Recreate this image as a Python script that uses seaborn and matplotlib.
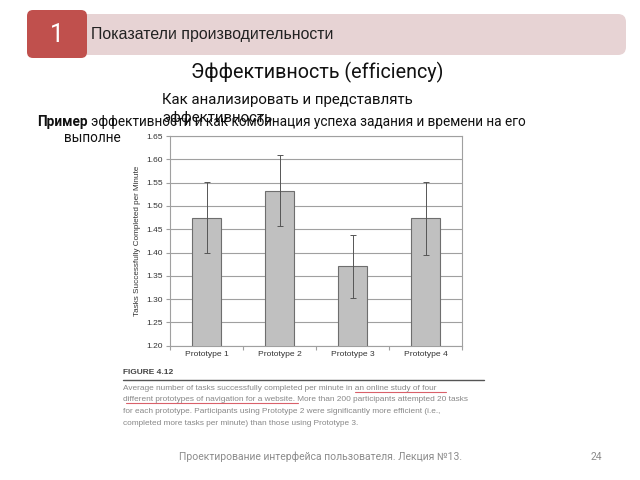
import matplotlib
matplotlib.use("Agg")
import matplotlib.pyplot as plt
from matplotlib.patches import FancyBboxPatch
from matplotlib.ticker import FixedLocator
import numpy as np
import seaborn as sns

# Chart data
prototypes = ["Prototype 1", "Prototype 2", "Prototype 3", "Prototype 4"]
efficiency = [1.475, 1.533, 1.370, 1.473]
ci_half = [0.077, 0.076, 0.067, 0.079]
y_ticks = [1.20, 1.25, 1.30, 1.35, 1.40, 1.45, 1.50, 1.55, 1.60, 1.65]

# Slide texts
section_num = "1"
section_title = "Показатели производительности"
slide_title = "Эффективность (efficiency)"
subtitle_lines = ["Как анализировать и представлять", "эффективность"]
body_bold = "Пример"
body_rest = "эффективности и как комбинация успеха задания и времени на его"
body_line2 = "выполне"
fig_label = "FIGURE 4.12"
caption_lines = [
    "Average number of tasks successfully completed per minute in an online study of four",
    "different prototypes of navigation for a website. More than 200 participants attempted 20 tasks",
    "for each prototype. Participants using Prototype 2 were significantly more efficient (i.e.,",
    "completed more tasks per minute) than those using Prototype 3.",
]
footer = "Проектирование интерфейса пользователя. Лекция №13."
page_num = "24"

sns.set_theme(style="white")
slide_font = ["Roboto", "DejaVu Sans"]
chart_font = ["Liberation Sans", "DejaVu Sans"]
plt.rcParams["font.family"] = chart_font

fig = plt.figure(figsize=(6.4, 4.8), dpi=100)
fig.patch.set_facecolor("white")

# Background layer in pixel coordinates for the slide decorations
bg = fig.add_axes([0, 0, 1, 1])
bg.set_xlim(0, 640)
bg.set_ylim(480, 0)
bg.axis("off")
bg.set_zorder(0)

bg.add_patch(FancyBboxPatch((80, 14), 546, 41, boxstyle="round,pad=0,rounding_size=8",
                            facecolor="#e7d3d4", edgecolor="none"))
bg.add_patch(FancyBboxPatch((27, 10), 60, 48, boxstyle="round,pad=0,rounding_size=6",
                            facecolor="#c0504d", edgecolor="none"))
bg.text(57, 35, section_num, color="white", fontsize=18, ha="center", va="center",
        family=slide_font)
bg.text(91, 35, section_title, color="#222222", fontsize=11.4, ha="left", va="center",
        family=chart_font)
bg.text(317, 72, slide_title, color="#111111", fontsize=14.2, ha="center", va="center",
        family=slide_font)
for i, line in enumerate(subtitle_lines):
    bg.text(162, 100 + i * 18, line, color="#111111", fontsize=10.8, ha="left",
            va="center", family=slide_font)

# Bold lead word followed by the rest of the line
lead = bg.text(37, 122, body_bold, color="#111111", fontsize=9.8, fontweight="bold",
               ha="left", va="center", family=slide_font)
fig.canvas.draw()
lead_right = bg.transData.inverted().transform(
    lead.get_window_extent(fig.canvas.get_renderer()))[1, 0]
bg.text(lead_right + 3, 122, body_rest, color="#111111", fontsize=9.8, ha="left",
        va="center", family=slide_font)
bg.text(64, 138, body_line2, color="#111111", fontsize=9.8, ha="left", va="center",
        family=slide_font)

# Figure caption under the chart
bg.text(123, 373, fig_label, color="#444444", fontsize=6, fontweight="bold",
        ha="left", va="center", family=chart_font)
bg.plot([123, 484], [380, 380], color="#555555", lw=1)
for i, line in enumerate(caption_lines):
    bg.text(123, 388 + i * 11.7, line, color="#888888", fontsize=5.95, ha="left",
            va="center", family=chart_font)
bg.plot([355, 446], [392, 392], color="#d9606a", lw=0.8)
bg.plot([126, 298], [403, 403], color="#d9606a", lw=0.8)

# Footer
bg.text(321, 457, footer, color="#8c8c8c", fontsize=7.5, ha="center", va="center",
        family=slide_font)
bg.text(596, 457, page_num, color="#8c8c8c", fontsize=7.5, ha="center", va="center",
        family=slide_font)

# Bar chart
ax = fig.add_axes([170 / 640, 1 - 345.7 / 480, 292 / 640, 209.7 / 480])
ax.set_zorder(1)
ax.set_facecolor("white")
sns.barplot(x=prototypes, y=efficiency, color="#c0c0c0", edgecolor="#6e6e6e",
            linewidth=0.8, width=0.39, errorbar=None, ax=ax, zorder=3)
ax.errorbar(prototypes, efficiency, yerr=ci_half, fmt="none", ecolor="#555555",
            elinewidth=0.7, capsize=2.5, capthick=0.7, zorder=4)

ax.set_ylim(y_ticks[0], y_ticks[-1])
ax.set_xlim(-0.5, len(prototypes) - 0.5)
ax.set_yticks(y_ticks)
ax.set_yticklabels([f"{t:.2f}" for t in y_ticks])
ax.yaxis.grid(True, color="#a0a0a0", lw=0.8)
ax.set_axisbelow(True)
for s in ax.spines.values():
    s.set_color("#a0a0a0")
    s.set_linewidth(0.8)
ax.xaxis.set_minor_locator(FixedLocator(np.arange(-0.5, len(prototypes), 1.0)))
ax.tick_params(axis="x", which="major", length=0, labelsize=6.1, labelcolor="#333333", pad=4)
ax.tick_params(axis="x", which="minor", length=3, color="#a0a0a0", width=0.8, bottom=True)
ax.tick_params(axis="y", length=3, color="#a0a0a0", width=0.8, labelsize=6,
               labelcolor="#333333", left=True, pad=2)
ax.set_xlabel("")
ax.set_ylabel("Tasks Successfully Completed per Minute", fontsize=5.9, color="#333333",
              labelpad=4)

fig.savefig("out.png", dpi=100)
